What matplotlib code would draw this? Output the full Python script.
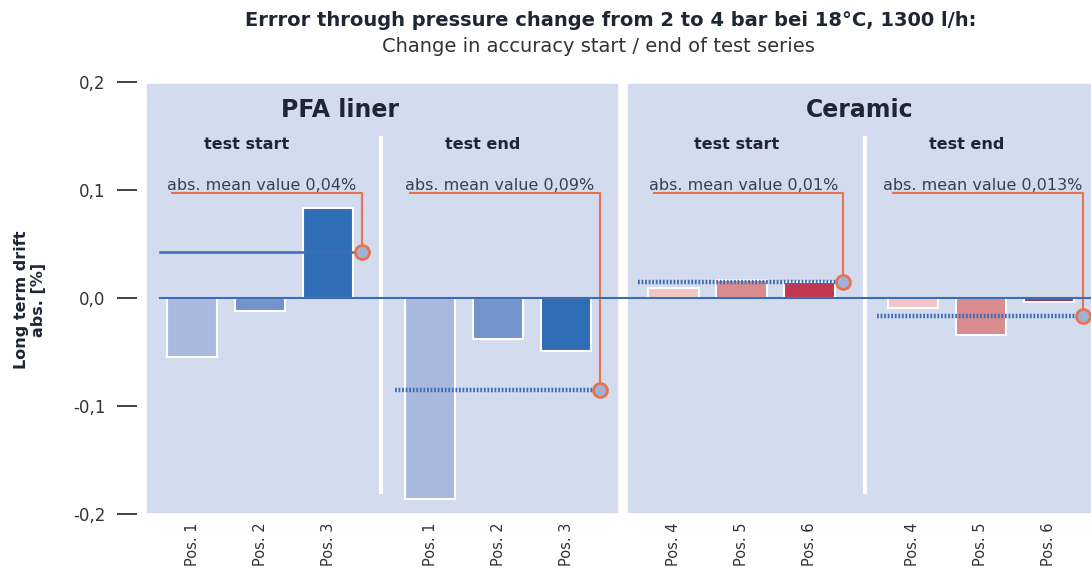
import matplotlib
matplotlib.use('Agg')
import matplotlib.pyplot as plt
from matplotlib.patches import Rectangle

# data
groups = ['test start', 'test end', 'test start', 'test end']
materials = ['PFA liner', 'Ceramic']
tick_labels = [['Pos. 1', 'Pos. 2', 'Pos. 3'], ['Pos. 1', 'Pos. 2', 'Pos. 3'],
               ['Pos. 4', 'Pos. 5', 'Pos. 6'], ['Pos. 4', 'Pos. 5', 'Pos. 6']]
pfa_start = [-0.055, -0.012, 0.083]
pfa_end = [-0.186, -0.038, -0.049]
cer_start = [0.009, 0.017, 0.015]
cer_end = [-0.009, -0.034, -0.004]
values = [pfa_start, pfa_end, cer_start, cer_end]
mean_lines = [0.043, -0.085, 0.015, -0.017]
mean_labels = ['abs. mean value 0,04%', 'abs. mean value 0,09%',
               'abs. mean value 0,01%', 'abs. mean value 0,013%']
yticks = [-0.2, -0.1, 0.0, 0.1, 0.2]
ytick_labels = ['-0,2', '-0,1', '0,0', '0,1', '0,2']

# layout
group_offsets = [0, 3.5, 7.08, 10.6]
header_dx = [0.8, 0.78, 0.93, 0.79]
blues = ['#a9b9dd', '#7293cb', '#2f6db5']
reds = ['#f2c6c6', '#d98b8e', '#c2374f']
reds_end = ['#f2c6c6', '#d98b8e', '#a8304f']
bar_colors = [blues, blues, reds, reds_end]
panel_col = '#d3dbee'
orange = '#e8724f'
line_blue = '#3a6db3'
text_col = '#1e2533'

plt.rcParams['font.family'] = ['DejaVu Sans']
fig = plt.figure(figsize=(10.91, 5.70), dpi=100)
ax = fig.add_axes([137 / 1091, 1 - 514 / 570, 1 - 137 / 1091, 432 / 570])
ax.set_ylim(-0.2, 0.2)
ax.set_xlim(-0.81, 13.22)
ax.patch.set_alpha(0)
for s in ax.spines.values():
    s.set_visible(False)

# panels
ax.add_patch(Rectangle((-0.66, -0.198), 6.91, 0.396, color=panel_col, zorder=0))
ax.add_patch(Rectangle((6.41, -0.198), 6.9, 0.396, color=panel_col, zorder=0))
ax.plot([2.78, 2.78], [-0.18, 0.148], color='white', lw=3, zorder=1)
ax.plot([9.9, 9.9], [-0.18, 0.148], color='white', lw=3, zorder=1)

xpos_all = []
xlab_all = []
for g in range(4):
    off = group_offsets[g]
    xs = [off + i for i in range(3)]
    ax.bar(xs, values[g], width=0.74, color=bar_colors[g], edgecolor='white',
           linewidth=1.5, zorder=2)
    xpos_all += xs
    xlab_all += tick_labels[g]
    m = mean_lines[g]
    if g == 0:
        ax.plot([off - 0.47, off + 2.5], [m, m], color=line_blue, lw=1.8, zorder=3)
    else:
        ax.plot([off - 0.52, off + 2.5], [m, m], color=line_blue, lw=3.2,
                linestyle=(0, (0.4, 0.4)), zorder=3)
    ax.plot([off - 0.29, off + 2.5, off + 2.5], [0.097, 0.097, m],
            color=orange, lw=1.5, zorder=3)
    ax.plot([off + 2.5], [m], marker='o', ms=10, mfc='#9fb3d8', mec=orange,
            mew=2, zorder=4)
    ax.text(off + 1.03, 0.1, mean_labels[g], ha='center', va='baseline',
            fontsize=11.5, color='#33405a', zorder=5)
    ax.text(off + header_dx[g], 0.138, groups[g], ha='center', va='baseline',
            fontsize=11.5, fontweight='bold', color=text_col)

ax.plot([-0.47, 13.22], [0, 0], color=line_blue, lw=1.5, zorder=3)

ax.text(2.18, 0.168, materials[0], ha='center', va='baseline', fontsize=17,
        fontweight='bold', color=text_col)
ax.text(9.82, 0.168, materials[1], ha='center', va='baseline', fontsize=17,
        fontweight='bold', color=text_col)

ax.set_yticks(yticks)
ax.set_yticklabels(ytick_labels, fontsize=12, color='#333333')
ax.tick_params(axis='y', length=14.5, width=1.3, color='#333333', pad=8)
ax.set_xticks(xpos_all)
ax.set_xticklabels(xlab_all, rotation=90, fontsize=10.5, color='#333333')
ax.tick_params(axis='x', length=0, pad=6)

fig.text(30 / 1091, 1 - 300 / 570, 'Long term drift\nabs. [%]', rotation=90,
         ha='center', va='center', fontsize=11.5, fontweight='bold',
         color=text_col, linespacing=1.1)
fig.text(611 / 1091, 1 - 20 / 570,
         'Errror through pressure change from 2 to 4 bar bei 18°C, 1300 l/h:',
         ha='center', va='center', fontsize=14, fontweight='bold', color=text_col)
fig.text(598 / 1091, 1 - 46 / 570, 'Change in accuracy start / end of test series',
         ha='center', va='center', fontsize=14, color='#333333')

fig.savefig('out.png', dpi=100)
